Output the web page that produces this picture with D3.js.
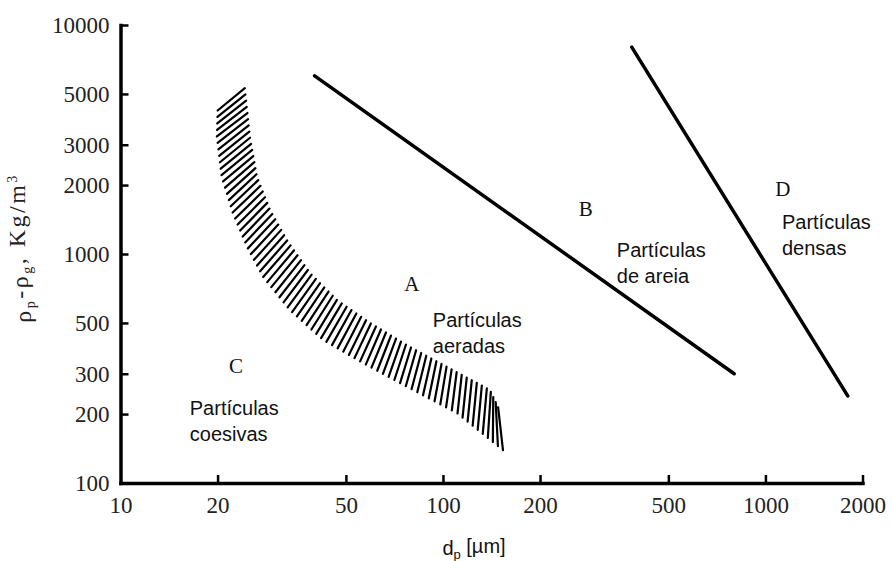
<!DOCTYPE html>
<html><head><meta charset="utf-8">
<script src="https://cdn.jsdelivr.net/npm/d3@7"></script>
<style>
html,body{margin:0;padding:0;background:#fff;}
svg{display:block;}
</style></head>
<body>
<svg id="chart" width="892" height="561"></svg>
<script>
// ---- data ----
const xTicks = [10, 20, 50, 100, 200, 500, 1000, 2000];
const yTicks = [100, 200, 300, 500, 1000, 2000, 3000, 5000, 10000];

// boundary A/B
const lineBx = [40, 800];
const lineBy = [6000, 300];
// boundary B/D
const lineDx = [385, 1800];
const lineDy = [8000, 240];

// hatched A/C transition band
const bandOuterX = [20.1, 19.9, 20.6, 22.3, 24.7, 27.7, 33.5, 42.5, 56.5, 77.3, 110.5, 153.5];
const bandOuterY = [5300, 3240, 2170, 1510, 1073, 793, 569, 421, 334, 263, 202, 139];
const bandInnerX = [24.3, 25.2, 26.5, 29.1, 32.8, 38.7, 46.9, 59.4, 79, 107.4, 139.8, 159];
const bandInnerY = [5300, 3240, 2170, 1556, 1151, 826, 630, 500, 393, 311, 255, 174];

// group labels
const groupLetters = ["A", "B", "C", "D"];
const groupLetterX = [80, 277, 22.8, 1133];
const groupLetterY = [740, 1572, 324, 1922];
const groupNames = [["Partículas", "aeradas"], ["Partículas", "de areia"], ["Partículas", "coesivas"], ["Partículas", "densas"]];
const groupNameX = [93, 346, 16.4, 1125];
const groupNameY = [515, 1041, 212, 1379];

// ---- drawing ----
const svg = d3.select("#chart");
const x = d3.scaleLog().domain([10, 2000]).range([120.5, 862.5]);
const y = d3.scaleLog().domain([100, 10000]).range([483, 25]);

const serif = "'Liberation Serif','Times New Roman',serif";
const sans = "'Liberation Sans',Arial,sans-serif";

// axes
const gx = svg.append("g").attr("transform", `translate(0,${y(100)})`)
  .call(d3.axisBottom(x).tickValues(xTicks).tickFormat(d3.format("d")).tickSize(-8).tickSizeOuter(0).tickPadding(14));
const gy = svg.append("g").attr("transform", `translate(${x(10)},0)`)
  .call(d3.axisLeft(y).tickValues(yTicks).tickFormat(d3.format("d")).tickSize(-8).tickSizeOuter(0).tickPadding(11));
[gx, gy].forEach(g => {
  g.select(".domain").attr("stroke", "#000").attr("stroke-width", 3.5).attr("stroke-linecap", "square");
  g.selectAll(".tick line").attr("stroke", "#000").attr("stroke-width", 2.5);
  g.selectAll(".tick text").attr("fill", "#222").style("font-family", serif).style("font-size", "23px");
});
gx.selectAll(".tick").filter(d => d === 10).select("line").remove();
gy.selectAll(".tick").filter(d => d === 100).select("line").remove();

// boundary lines
const line = d3.line().x(d => x(d[0])).y(d => y(d[1]));
svg.append("path").datum(d3.zip(lineBx, lineBy)).attr("d", line)
  .attr("fill", "none").attr("stroke", "#000").attr("stroke-width", 3.5).attr("stroke-linecap", "round");
svg.append("path").datum(d3.zip(lineDx, lineDy)).attr("d", line)
  .attr("fill", "none").attr("stroke", "#000").attr("stroke-width", 3.5).attr("stroke-linecap", "round");

// hatched band
function polyParam(pts) {
  const L = [0];
  for (let i = 1; i < pts.length; i++) L.push(L[i-1] + Math.hypot(pts[i][0]-pts[i-1][0], pts[i][1]-pts[i-1][1]));
  const tot = L[L.length-1];
  return t => {
    t = Math.max(0, Math.min(1, t));
    const s = t * tot;
    let i = 1;
    while (i < L.length - 1 && L[i] < s) i++;
    const f = (s - L[i-1]) / (L[i] - L[i-1] || 1);
    return [pts[i-1][0] + f*(pts[i][0]-pts[i-1][0]), pts[i-1][1] + f*(pts[i][1]-pts[i-1][1])];
  };
}
const outerPx = d3.zip(bandOuterX, bandOuterY).map(d => [x(d[0]), y(d[1])]);
const innerPx = d3.zip(bandInnerX, bandInnerY).map(d => [x(d[0]), y(d[1])]);
const outerF = polyParam(outerPx), innerF = polyParam(innerPx);
const nStrokes = 74;
const hatch = d3.range(nStrokes).map(k => {
  const u = k / (nStrokes - 1);
  const ta = 0.045 + 0.955 * u;
  const tb = u * (1 - 0.05 * u);
  return [outerF(ta), innerF(tb)];
});
svg.append("g").selectAll("line").data(hatch).join("line")
  .attr("x1", d => d[0][0]).attr("y1", d => d[0][1])
  .attr("x2", d => d[1][0]).attr("y2", d => d[1][1])
  .attr("stroke", "#000").attr("stroke-width", 2.2).attr("stroke-linecap", "round");

// group letters
svg.append("g").selectAll("text").data(groupLetters).join("text")
  .attr("x", (d, i) => x(groupLetterX[i])).attr("y", (d, i) => y(groupLetterY[i]))
  .attr("text-anchor", "middle").attr("dy", "0.35em")
  .style("font-family", serif).style("font-size", "21px").attr("fill", "#111")
  .text(d => d);

// group names
const names = svg.append("g").selectAll("text").data(groupNames).join("text")
  .attr("x", (d, i) => x(groupNameX[i])).attr("y", (d, i) => y(groupNameY[i]))
  .style("font-family", sans).style("font-size", "20px").attr("fill", "#111");
names.selectAll("tspan").data(d => d).join("tspan")
  .attr("x", function() { return d3.select(this.parentNode).attr("x"); })
  .attr("dy", (d, i) => i === 0 ? "0.35em" : "1.3em")
  .text(d => d);

// axis titles
const xt = svg.append("text").attr("x", 474).attr("y", 555).attr("text-anchor", "middle")
  .style("font-family", sans).style("font-size", "20px").attr("fill", "#111");
xt.append("tspan").text("d");
xt.append("tspan").attr("dy", "0.3em").style("font-size", "13px").text("p");
xt.append("tspan").attr("dy", "-0.3em").text(" [µm]");

const yt = svg.append("text").attr("transform", "translate(31,248) rotate(-90)")
  .attr("text-anchor", "middle").style("letter-spacing", "2.5px")
  .style("font-family", serif).style("font-size", "24px").attr("fill", "#222");
yt.append("tspan").text("ρ");
yt.append("tspan").attr("dy", "0.3em").style("font-size", "14px").text("p");
yt.append("tspan").attr("dy", "-0.3em").text("-ρ");
yt.append("tspan").attr("dy", "0.3em").style("font-size", "14px").text("g");
yt.append("tspan").attr("dy", "-0.3em").text(", Kg/m");
yt.append("tspan").attr("dy", "-0.6em").style("font-size", "14px").text("3");
</script>
</body></html>
